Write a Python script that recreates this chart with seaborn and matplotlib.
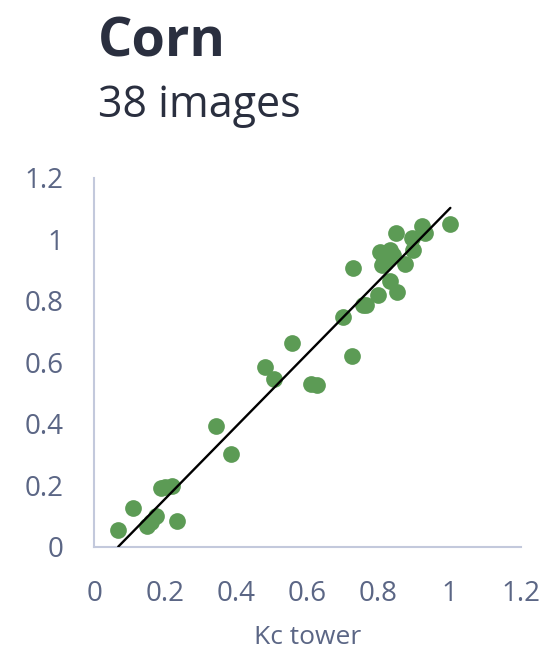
import numpy as np
import pandas as pd
import matplotlib
matplotlib.use('Agg')
import matplotlib.pyplot as plt
import seaborn as sns

# Kc tower vs Kc image (Corn, 38 images)
kc_tower = [0.068, 0.110, 0.148, 0.174, 0.232, 0.188, 0.218, 0.200, 0.160,
            0.343, 0.384, 0.481, 0.506, 0.558, 0.609, 0.628,
            0.701, 0.724, 0.729, 0.757, 0.766, 0.799, 0.832, 0.852,
            0.804, 0.832, 0.818, 0.809, 0.874, 0.848, 0.893, 0.897,
            0.921, 0.930, 1.002, 0.825, 0.840, 0.815]
kc_image = [0.055, 0.126, 0.066, 0.099, 0.085, 0.191, 0.198, 0.195, 0.080,
            0.393, 0.302, 0.584, 0.547, 0.662, 0.530, 0.525,
            0.749, 0.619, 0.906, 0.787, 0.787, 0.820, 0.863, 0.830,
            0.960, 0.966, 0.923, 0.917, 0.920, 1.020, 1.004, 0.966,
            1.042, 1.020, 1.049, 0.940, 0.950, 0.930]

# trendline as drawn in the original (slope / intercept)
trend_slope = 1.18
trend_intercept = -0.080

ticks = [0, 0.2, 0.4, 0.6, 0.8, 1, 1.2]
tick_labels = ['0', '0.2', '0.4', '0.6', '0.8', '1', '1.2']

df = pd.DataFrame({'Kc tower': kc_tower, 'Kc image': kc_image})

sns.set_style('white')
plt.rcParams['font.family'] = ['Open Sans', 'DejaVu Sans']

label_color = '#5b6685'
spine_color = '#c3c9dc'

fig = plt.figure(figsize=(5.47, 6.54), dpi=100)
ax = fig.add_axes([0.172, 0.164, 0.780, 0.564])

sns.scatterplot(data=df, x='Kc tower', y='Kc image', ax=ax,
                color='#5c9b55', s=145, linewidth=0, alpha=1, zorder=2)

xs = np.array([min(kc_tower), max(kc_tower)])
ax.plot(xs, trend_slope * xs + trend_intercept, color='black', lw=1.7, zorder=3)

ax.set_xlim(0, 1.2)
ax.set_ylim(0, 1.2)
ax.set_xticks(ticks)
ax.set_xticklabels(tick_labels)
ax.set_yticks(ticks)
ax.set_yticklabels(tick_labels)
ax.tick_params(axis='both', length=0, labelsize=20, colors=label_color)
ax.tick_params(axis='x', pad=24)
ax.tick_params(axis='y', pad=22)
ax.set_xlabel('Kc tower', fontsize=19, color=label_color, labelpad=12)
ax.set_ylabel('')

for side in ['top', 'right']:
    ax.spines[side].set_visible(False)
for side in ['left', 'bottom']:
    ax.spines[side].set_color(spine_color)
    ax.spines[side].set_linewidth(1.5)

fig.text(0.179, 0.913, 'Corn', fontsize=39, fontweight='bold', color='#2a2f3f')
fig.text(0.179, 0.821, '38 images', fontsize=31, color='#2a2f3f')

fig.savefig('out.png', dpi=100)
